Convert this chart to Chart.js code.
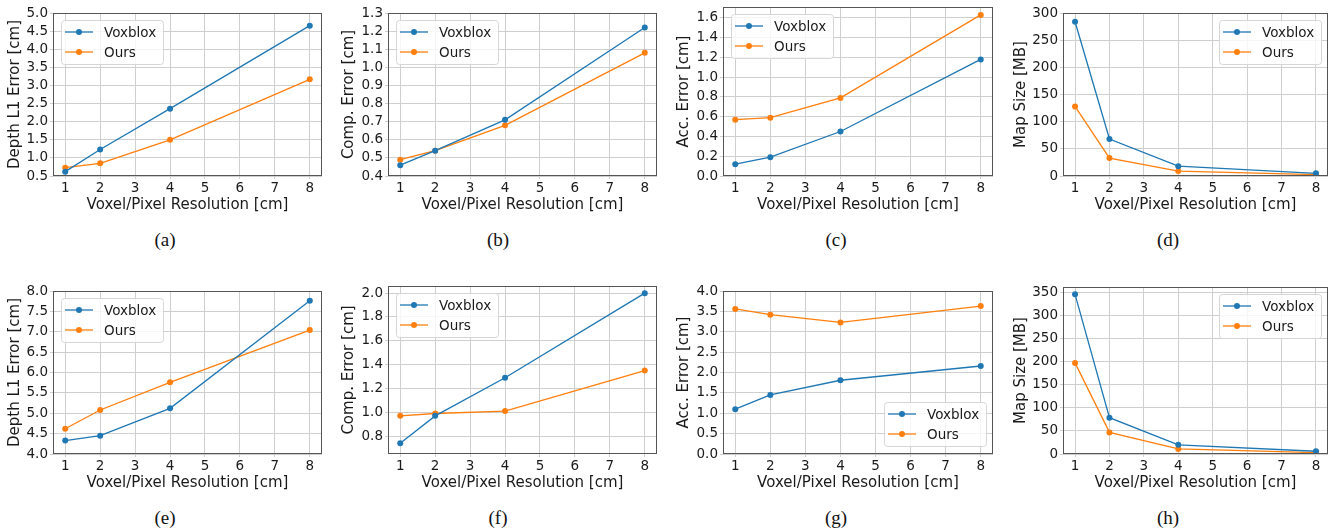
<!DOCTYPE html>
<html>
<head>
<meta charset="utf-8">
<script src="https://cdn.jsdelivr.net/npm/chart.js@4"></script>
<style>
  html, body { margin: 0; padding: 0; background: #fff; overflow: hidden; }
  #fig { position: relative; width: 1331px; height: 531px; }
  #fig canvas { position: absolute; }
  .cap { position: absolute; font: 19px "Liberation Serif", serif; color: #111;
         transform: translate(-50%, -50%); white-space: nowrap; }
</style>
</head>
<body>
<div id="fig"></div>
<script>
// 데이터
const resolutions = [1, 2, 4, 8];
const xTicks = [1, 2, 3, 4, 5, 6, 7, 8];
const xTitle = 'Voxel/Pixel Resolution [cm]';
const seriesNames = ['Voxblox', 'Ours'];

// 위쪽 줄
const depthVoxTop = [0.62, 1.23, 2.36, 4.65];
const depthOursTop = [0.73, 0.85, 1.50, 3.17];
const compVoxTop = [0.46, 0.54, 0.71, 1.22];
const compOursTop = [0.49, 0.54, 0.68, 1.08];
const accVoxTop = [0.12, 0.19, 0.45, 1.18];
const accOursTop = [0.57, 0.59, 0.79, 1.63];
const sizeVoxTop = [284, 68, 18, 5];
const sizeOursTop = [128, 33, 9, 2.5];

// 아래쪽 줄
const depthVoxBot = [4.33, 4.45, 5.12, 7.76];
const depthOursBot = [4.62, 5.08, 5.76, 7.04];
const compVoxBot = [0.74, 0.97, 1.29, 2.0];
const compOursBot = [0.97, 0.99, 1.01, 1.35];
const accVoxBot = [1.10, 1.45, 1.81, 2.16];
const accOursBot = [3.56, 3.42, 3.23, 3.63];
const sizeVoxBot = [347, 79, 20, 6];
const sizeOursBot = [198, 47, 11, 3];

// y축 눈금
const depthTicksTop = [0.5, 1.0, 1.5, 2.0, 2.5, 3.0, 3.5, 4.0, 4.5, 5.0];
const compTicksTop = [0.4, 0.5, 0.6, 0.7, 0.8, 0.9, 1.0, 1.1, 1.2, 1.3];
const accTicksTop = [0, 0.2, 0.4, 0.6, 0.8, 1.0, 1.2, 1.4, 1.6];
const sizeTicksTop = [0, 50, 100, 150, 200, 250, 300];
const depthTicksBot = [4.0, 4.5, 5.0, 5.5, 6.0, 6.5, 7.0, 7.5, 8.0];
const compTicksBot = [0.8, 1.0, 1.2, 1.4, 1.6, 1.8, 2.0];
const accTicksBot = [0, 0.5, 1.0, 1.5, 2.0, 2.5, 3.0, 3.5, 4.0];
const sizeTicksBot = [0, 50, 100, 150, 200, 250, 300, 350];

const BLUE = '#1f77b4';
const ORANGE = '#ff7f0e';
const TEXT = '#1a1a1a';
const GRID = '#cfcfcf';
const FONT = '"DejaVu Sans", sans-serif';

const PT = 14, PR = 6, XH = 38;

// matplotlib 식 테두리
const framePlugin = {
  id: 'frame',
  afterDraw(chart) {
    const { ctx, chartArea: a } = chart;
    ctx.save();
    ctx.strokeStyle = '#555';
    ctx.lineWidth = 1;
    ctx.strokeRect(Math.round(a.left) + 0.5, Math.round(a.top) + 0.5,
                   Math.round(a.right - a.left) - 1, Math.round(a.bottom - a.top) - 1);
    ctx.restore();
  }
};

// 축 안쪽 범례 박스
const boxLegend = {
  id: 'boxLegend',
  afterDraw(chart, args, opts) {
    const { ctx, chartArea: a } = chart;
    const w = 102, h = 44;
    const x = opts.corner.includes('right') ? a.right - 7 - w : a.left + 8;
    const y = opts.corner.includes('lower') ? a.bottom - 8 - h : a.top + 7;
    ctx.save();
    ctx.beginPath();
    ctx.roundRect(x + 0.5, y + 0.5, w, h, 3);
    ctx.fillStyle = 'rgba(255,255,255,0.8)';
    ctx.fill();
    ctx.strokeStyle = '#d6d6d6';
    ctx.lineWidth = 1;
    ctx.stroke();
    chart.data.datasets.forEach((ds, i) => {
      const cy = y + 12 + i * 20;
      ctx.strokeStyle = ds.borderColor;
      ctx.lineWidth = 1.3;
      ctx.beginPath();
      ctx.moveTo(x + 4, cy);
      ctx.lineTo(x + 32, cy);
      ctx.stroke();
      ctx.fillStyle = ds.borderColor;
      ctx.beginPath();
      ctx.arc(x + 18, cy, 3, 0, Math.PI * 2);
      ctx.fill();
      ctx.fillStyle = TEXT;
      ctx.font = '13.5px ' + FONT;
      ctx.textBaseline = 'middle';
      ctx.fillText(ds.label, x + 43, cy + 1);
    });
    ctx.restore();
  }
};

const fig = document.getElementById('fig');

function panel(p) {
  const { l, t, r, b } = p.rect;
  const c = document.createElement('canvas');
  const W = p.yw + (r - l) + PR;
  const H = PT + (b - t) + XH;
  c.width = W; c.height = H;
  c.style.left = (l - p.yw) + 'px';
  c.style.top = (t - PT) + 'px';
  c.style.width = W + 'px';
  c.style.height = H + 'px';
  fig.appendChild(c);

  const mk = (label, vals, color) => ({
    label,
    data: resolutions.map((x, i) => ({ x, y: vals[i] })),
    borderColor: color,
    backgroundColor: color,
    borderWidth: 1.3,
    pointRadius: 3,
    pointBorderWidth: 0,
    pointBackgroundColor: color,
    tension: 0
  });

  new Chart(c, {
    type: 'line',
    data: { datasets: [mk(seriesNames[0], p.vox, BLUE), mk(seriesNames[1], p.ours, ORANGE)] },
    options: {
      responsive: false,
      animation: false,
      devicePixelRatio: 1,
      layout: { padding: { top: PT, right: PR, left: 0, bottom: 0 }, autoPadding: false },
      plugins: { legend: { display: false }, tooltip: { enabled: false },
                 boxLegend: { corner: p.corner } },
      scales: {
        x: {
          type: 'linear', min: 0.65, max: 8.35,
          afterBuildTicks: s => { s.ticks = xTicks.map(v => ({ value: v })); },
          afterFit: s => { s.height = XH; },
          grid: { color: GRID, tickLength: 3, tickColor: GRID },
          border: { display: false },
          ticks: { padding: 1, color: TEXT, font: { family: FONT, size: 13.5 },
                   maxRotation: 0, autoSkip: false, callback: v => String(v) },
          title: { display: true, text: xTitle, color: TEXT, padding: 0,
                   font: { family: FONT, size: 15 } }
        },
        y: {
          min: p.yMin, max: p.yMax,
          afterBuildTicks: s => { s.ticks = p.yTicks.map(v => ({ value: v })); },
          afterFit: s => { s.width = p.yw; },
          grid: { color: GRID, tickLength: 3, tickColor: GRID },
          border: { display: false },
          ticks: { padding: 2, color: TEXT, font: { family: FONT, size: 13.5 },
                   autoSkip: false, callback: v => v.toFixed(p.dec) },
          title: { display: true, text: p.yTitle, color: TEXT, padding: 0,
                   font: { family: FONT, size: 15 } }
        }
      }
    },
    plugins: [framePlugin, boxLegend]
  });

  const cap = document.createElement('div');
  cap.className = 'cap';
  cap.textContent = p.cap;
  cap.style.left = p.capX + 'px';
  cap.style.top = p.capY + 'px';
  fig.appendChild(cap);
}

// 위쪽 줄 (a)-(d)
panel({ rect: { l: 53, t: 13, r: 322, b: 176 }, yw: 47, yTitle: 'Depth L1 Error [cm]',
        vox: depthVoxTop, ours: depthOursTop, yMin: 0.5, yMax: 5.0, yTicks: depthTicksTop, dec: 1,
        corner: 'upper left', cap: '(a)', capX: 165, capY: 240 });
panel({ rect: { l: 388, t: 13, r: 657, b: 176 }, yw: 48, yTitle: 'Comp. Error [cm]',
        vox: compVoxTop, ours: compOursTop, yMin: 0.4, yMax: 1.3, yTicks: compTicksTop, dec: 1,
        corner: 'upper left', cap: '(b)', capX: 498, capY: 240 });
panel({ rect: { l: 723, t: 7, r: 993, b: 176 }, yw: 48, yTitle: 'Acc. Error [cm]',
        vox: accVoxTop, ours: accOursTop, yMin: 0, yMax: 1.71, yTicks: accTicksTop, dec: 1,
        corner: 'upper left', cap: '(c)', capX: 836, capY: 240 });
panel({ rect: { l: 1063, t: 13, r: 1328, b: 176 }, yw: 51, yTitle: 'Map Size [MB]',
        vox: sizeVoxTop, ours: sizeOursTop, yMin: 0, yMax: 300, yTicks: sizeTicksTop, dec: 0,
        corner: 'upper right', cap: '(d)', capX: 1168, capY: 240 });

// 아래쪽 줄 (e)-(h)
panel({ rect: { l: 53, t: 291, r: 322, b: 454 }, yw: 47, yTitle: 'Depth L1 Error [cm]',
        vox: depthVoxBot, ours: depthOursBot, yMin: 4.0, yMax: 8.0, yTicks: depthTicksBot, dec: 1,
        corner: 'upper left', cap: '(e)', capX: 165, capY: 518 });
panel({ rect: { l: 388, t: 286, r: 657, b: 454 }, yw: 48, yTitle: 'Comp. Error [cm]',
        vox: compVoxBot, ours: compOursBot, yMin: 0.65, yMax: 2.06, yTicks: compTicksBot, dec: 1,
        corner: 'upper left', cap: '(f)', capX: 498, capY: 518 });
panel({ rect: { l: 723, t: 291, r: 993, b: 454 }, yw: 48, yTitle: 'Acc. Error [cm]',
        vox: accVoxBot, ours: accOursBot, yMin: 0, yMax: 4.0, yTicks: accTicksBot, dec: 1,
        corner: 'lower right', cap: '(g)', capX: 836, capY: 518 });
panel({ rect: { l: 1063, t: 287, r: 1328, b: 454 }, yw: 51, yTitle: 'Map Size [MB]',
        vox: sizeVoxBot, ours: sizeOursBot, yMin: 0, yMax: 363, yTicks: sizeTicksBot, dec: 0,
        corner: 'upper right', cap: '(h)', capX: 1168, capY: 518 });
</script>
</body>
</html>
